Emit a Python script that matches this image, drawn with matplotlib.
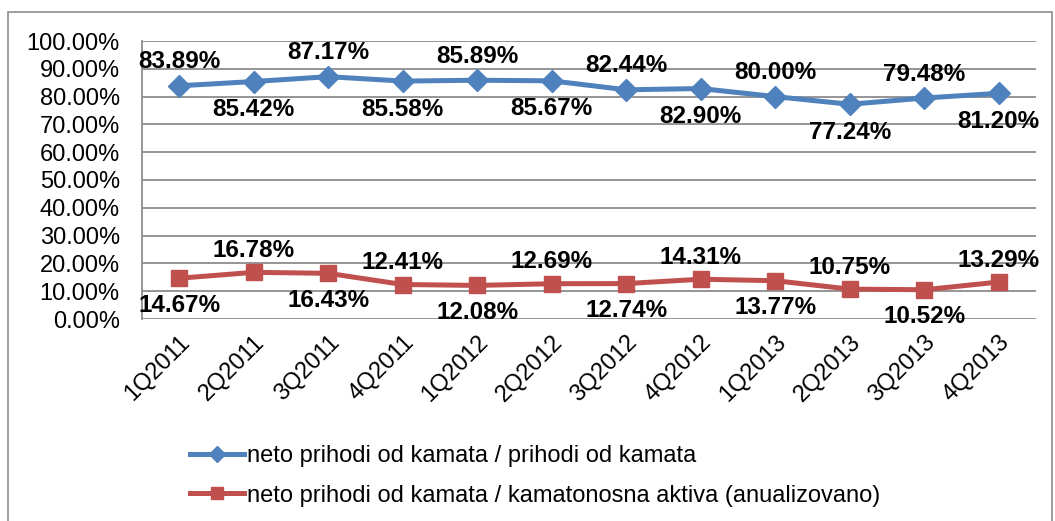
import matplotlib
matplotlib.use("Agg")
import matplotlib.pyplot as plt
from matplotlib.patches import Rectangle
from matplotlib.ticker import FuncFormatter

plt.rcParams['font.family'] = ['Liberation Sans', 'DejaVu Sans']

quarters = ['1Q2011', '2Q2011', '3Q2011', '4Q2011', '1Q2012', '2Q2012',
            '3Q2012', '4Q2012', '1Q2013', '2Q2013', '3Q2013', '4Q2013']
net_interest_share = [83.89, 85.42, 87.17, 85.58, 85.89, 85.67,
                      82.44, 82.90, 80.00, 77.24, 79.48, 81.20]
net_interest_margin = [14.67, 16.78, 16.43, 12.41, 12.08, 12.69,
                       12.74, 14.31, 13.77, 10.75, 10.52, 13.29]
series_names = ['neto prihodi od kamata / prihodi od kamata',
                'neto prihodi od kamata / kamatonosna aktiva (anualizovano)']

blue = '#4F81BD'
red = '#C0504D'

fig = plt.figure(figsize=(10.55, 5.21), dpi=100)
ax = fig.add_axes([142 / 1055, 1 - 319 / 521, 894 / 1055, 278 / 521])

# outer chart border
fig.patches.append(Rectangle((8 / 1055, -0.05), 1044 / 1055, 1 - 12 / 521 + 0.05,
                             transform=fig.transFigure, fill=False,
                             edgecolor='#8c8c8c', linewidth=1.2))

x = list(range(len(quarters)))
ax.plot(x, net_interest_share, color=blue, lw=3.6, marker='D', ms=11,
        label=series_names[0], zorder=3)
ax.plot(x, net_interest_margin, color=red, lw=3.6, marker='s', ms=12,
        label=series_names[1], zorder=3)

# data labels, alternating above / below
for i, v in enumerate(net_interest_share):
    dy = 24 if i % 2 == 0 else -28
    ax.annotate(f'{v:.2f}%', (i, v), xytext=(0, dy), textcoords='offset pixels',
                ha='center', va='center', fontsize=17.5, fontweight='bold')
for i, v in enumerate(net_interest_margin):
    dy = -27 if i % 2 == 0 else 22
    ax.annotate(f'{v:.2f}%', (i, v), xytext=(0, dy), textcoords='offset pixels',
                ha='center', va='center', fontsize=17.5, fontweight='bold')

ax.set_xlim(-0.5, len(quarters) - 0.5)
ax.set_ylim(0, 100)
ax.set_yticks(range(0, 101, 10))
ax.yaxis.set_major_formatter(FuncFormatter(lambda v, p: f'{v:.2f}%'))
ax.set_xticks(x)
ax.set_xticklabels(quarters, rotation=45, ha='right', va='top',
                   rotation_mode='anchor')
ax.tick_params(axis='both', length=0, labelsize=17)
ax.tick_params(axis='x', pad=9)
ax.tick_params(axis='y', pad=16)
ax.grid(axis='y', color='#8c8c8c', linewidth=1.3)
ax.set_axisbelow(True)
for side in ['top', 'right', 'bottom']:
    ax.spines[side].set_visible(False)
ax.spines['left'].set_color('#8c8c8c')
ax.spines['left'].set_linewidth(1.3)

fig.legend(loc='upper left', bbox_to_anchor=(190 / 1055, 1 - 445 / 521),
           frameon=False, fontsize=17, handlelength=2.3, handletextpad=0.1,
           labelspacing=0.75, borderaxespad=0, borderpad=0, markerscale=0.7)

fig.savefig('out.png', dpi=100)
